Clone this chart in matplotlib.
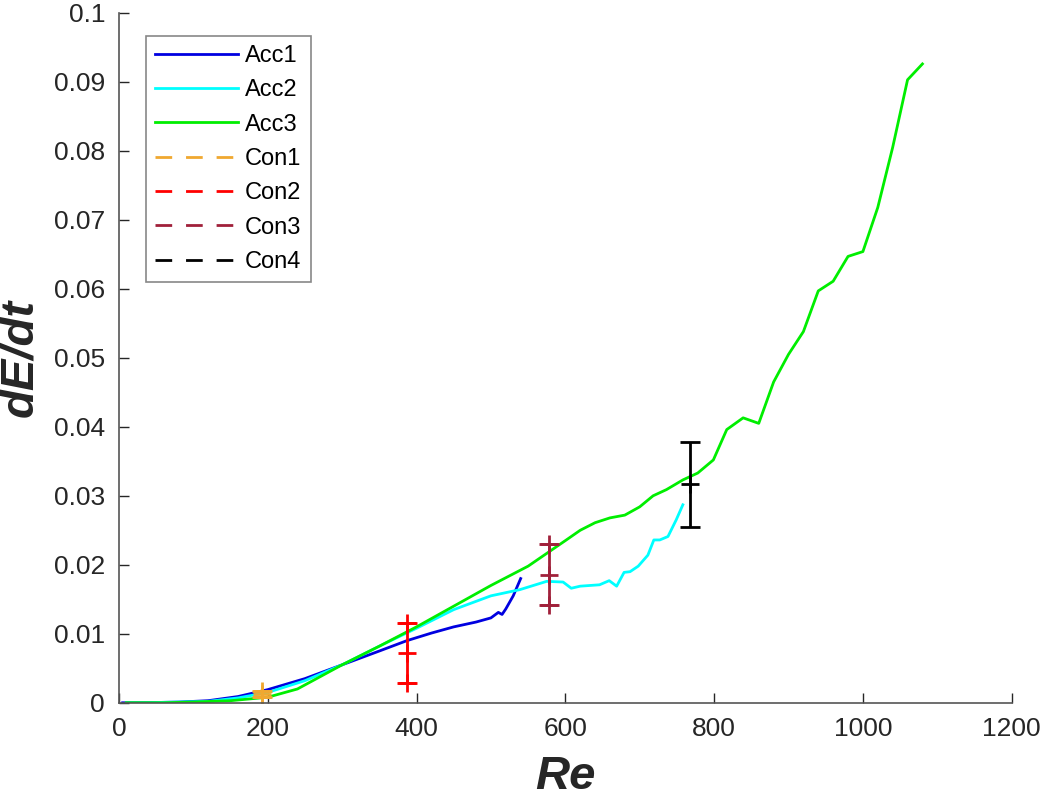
import numpy as np
import matplotlib
matplotlib.use("Agg")
import matplotlib.pyplot as plt
from matplotlib.lines import Line2D

plt.rcParams['font.family'] = ['Liberation Sans', 'DejaVu Sans']

# Acc curves (Re, dE/dt)
acc1_re = [5, 40, 80, 120, 160, 200, 250, 300, 350, 387, 420, 450, 480, 500, 510, 515, 520, 530, 540]
acc1_y = [0.0, 0.00002, 0.0001, 0.0003, 0.0009, 0.0019, 0.0035, 0.0055, 0.0075, 0.0090, 0.0101, 0.0110, 0.0117, 0.0123, 0.0131, 0.0128, 0.0136, 0.0155, 0.0180]

acc2_re = [10, 40, 80, 120, 160, 200, 250, 300, 350, 400, 450, 500, 539, 575, 597, 608, 620, 646, 659, 669, 679, 687,
           698, 711, 719, 727, 738, 749, 758]
acc2_y = [0.0, 0.00002, 0.0001, 0.0002, 0.0007, 0.0015, 0.0032, 0.0055, 0.0082, 0.0108, 0.0135, 0.0155, 0.0164, 0.0176,
          0.0175, 0.0166, 0.0169, 0.0171, 0.0177, 0.0169, 0.0189, 0.0190, 0.0198, 0.0214, 0.0236, 0.0236, 0.0241,
          0.0265, 0.0287]

acc3_re = [10, 60, 100, 150, 200, 240, 300, 350, 400, 450, 500, 550, 600, 620, 640, 660, 680, 700, 718, 736, 758, 778,
           799, 817, 839, 860, 880, 900, 920, 940, 960, 980, 1000, 1020, 1040, 1060, 1080]
acc3_y = [0.0, 0.0, 0.0001, 0.0003, 0.0008, 0.0020, 0.0055, 0.0082, 0.0110, 0.0140, 0.0170, 0.0198, 0.0235, 0.0250,
          0.0261, 0.0268, 0.0272, 0.0284, 0.0300, 0.0309, 0.0323, 0.0333, 0.0352, 0.0396, 0.0413, 0.0405, 0.0465,
          0.0505, 0.0538, 0.0597, 0.0611, 0.0647, 0.0654, 0.0718, 0.0805, 0.0903, 0.0926]

# Con points: Re, mean, low, high
con_names = ['Con1', 'Con2', 'Con3', 'Con4']
con_re = [193, 387, 578, 767]
con_mean = [0.0013, 0.0072, 0.0185, 0.0317]
con_low = [0.0009, 0.0029, 0.0141, 0.0255]
con_high = [0.0017, 0.0115, 0.0230, 0.0378]
con_colors = ['#f0a830', '#ff0000', '#a0203a', '#000000']

fig = plt.figure(figsize=(10.43, 8.05), dpi=100)
ax = fig.add_axes([0.114, 0.127, 0.856, 0.857])

ax.plot(acc1_re, acc1_y, color='#0000e0', lw=2, label='Acc1')
ax.plot(acc2_re, acc2_y, color='#00ffff', lw=2, label='Acc2')
ax.plot(acc3_re, acc3_y, color='#00ee00', lw=2, label='Acc3')

for i in range(4):
    m = con_mean[i]
    err = [[m - con_low[i]], [con_high[i] - m]]
    ax.errorbar([con_re[i]], [m], yerr=err, color=con_colors[i], lw=2, capsize=7, capthick=2,
                marker='+', ms=13, mew=2, ls='--', label=con_names[i])
    if i < 3:
        ax.plot([con_re[i]] * 2, [con_low[i], con_high[i]], ls='none', marker='+', ms=13, mew=2,
                color=con_colors[i])

ax.set_xlim(0, 1200)
ax.set_ylim(0, 0.1)
ax.set_xticks(np.arange(0, 1201, 200))
ax.set_yticks(np.arange(0, 0.1001, 0.01))
ax.set_yticklabels(['0', '0.01', '0.02', '0.03', '0.04', '0.05', '0.06', '0.07', '0.08', '0.09', '0.1'])

for s in ['top', 'right']:
    ax.spines[s].set_visible(False)
for s in ['left', 'bottom']:
    ax.spines[s].set_color('#555555')
    ax.spines[s].set_linewidth(1.2)
ax.tick_params(direction='in', length=7, width=1, colors='#262626', labelsize=19, pad=10)

ax.set_xlabel('Re', fontsize=34, fontweight='bold', style='italic', color='#262626', labelpad=10)
ax.set_ylabel('dE/dt', fontsize=34, fontweight='bold', style='italic', color='#262626', labelpad=8)

handles, labels = ax.get_legend_handles_labels()
leg_handles = handles[:3] + [Line2D([], [], color=c, lw=2, ls=(0, (6, 5))) for c in con_colors]
leg = ax.legend(leg_handles, labels[:3] + con_names, loc='upper left', bbox_to_anchor=(0.017, 0.984),
                fontsize=17, fancybox=False, edgecolor='#888888', framealpha=1, handlelength=3.5,
                labelspacing=0.52, borderpad=0.4, handletextpad=0.3)
leg.get_frame().set_linewidth(1.2)

fig.savefig('out.png', dpi=100)
